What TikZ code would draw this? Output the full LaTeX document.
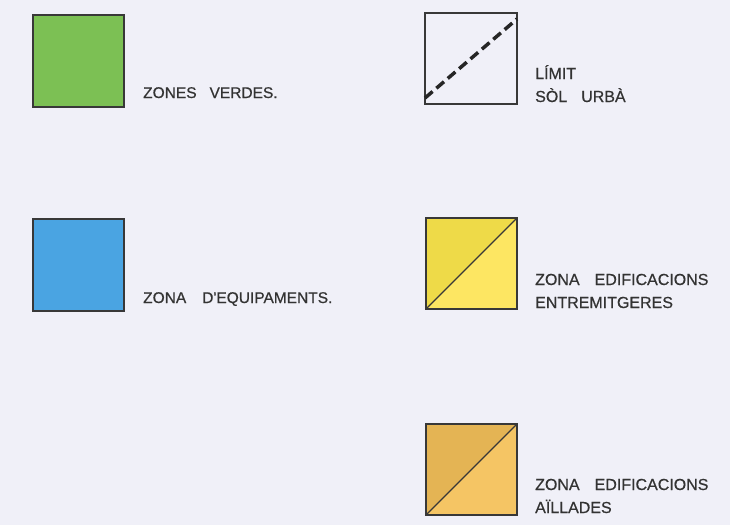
\documentclass[tikz,border=0pt]{standalone}
\usepackage{fontspec}
\setmainfont{Liberation Sans}
\newfontfamily\lblfont{Liberation Sans}[FakeBold=0.6]
\begin{document}
\begin{tikzpicture}[x=1pt,y=-1pt,
  box/.style={draw=black!78,line width=1.3pt},
  lbl/.style={anchor=base west,inner sep=0pt,font=\lblfont\fontsize{15.5}{23}\selectfont,text=black!80,align=left},
  lblr/.style={lbl,font=\lblfont\fontsize{16}{23}\selectfont}]
\definecolor{bg}{RGB}{240,240,248}
\definecolor{vgreen}{RGB}{124,192,84}
\definecolor{eblue}{RGB}{74,164,226}
\definecolor{ydark}{RGB}{238,218,72}
\definecolor{ylight}{RGB}{253,230,98}
\definecolor{odark}{RGB}{228,180,84}
\definecolor{olight}{RGB}{245,197,100}
\newcommand{\wsp}[1]{\hspace*{#1pt}}
\fill[bg] (0,0) rectangle (730,525);
\useasboundingbox (0,0) rectangle (730,525);
% green
\coordinate (g1) at (33,15); \coordinate (g2) at (124,107);
\fill[vgreen] (g1) rectangle (g2);
\draw[box] (g1) rectangle (g2);
\node[lbl] (tg) at (143,98) {ZONES\wsp{13}VERDES.};
% limit
\coordinate (l1) at (425,13); \coordinate (l2) at (517,104);
\draw[box] (l1) rectangle (l2);
\coordinate (ls) at (425,98); \coordinate (le) at (517,19);
\draw[black!85,line width=3.5pt,dash pattern=on 10pt off 5pt] (ls) -- (le);
\node[lblr] (tl) at (535,102) {LÍMIT\\SÒL\wsp{14}URBÀ};
% blue
\coordinate (b1) at (33,219); \coordinate (b2) at (124,311);
\fill[eblue] (b1) rectangle (b2);
\draw[box] (b1) rectangle (b2);
\node[lbl] (tb) at (143,303) {ZONA\wsp{16}D'EQUIPAMENTS.};
% yellow
\coordinate (y1) at (426,218); \coordinate (y2) at (517,309);
\fill[ylight] (y1) rectangle (y2);
\fill[ydark] (426,218) -- (517,218) -- (426,309) -- cycle;
\draw[box] (y1) rectangle (y2);
\draw[black!78,line width=1.2pt] (426,309) -- (517,218);
\node[lblr] (ty) at (535,308) {ZONA\wsp{15}EDIFICACIONS\\ENTREMITGERES};
% orange
\coordinate (o1) at (426,424); \coordinate (o2) at (517,515);
\fill[olight] (o1) rectangle (o2);
\fill[odark] (426,424) -- (517,424) -- (426,515) -- cycle;
\draw[box] (o1) rectangle (o2);
\draw[black!78,line width=1.2pt] (426,515) -- (517,424);
\node[lblr] (to) at (535,513) {ZONA\wsp{15}EDIFICACIONS\\AÏLLADES};
\end{tikzpicture}
\end{document}
